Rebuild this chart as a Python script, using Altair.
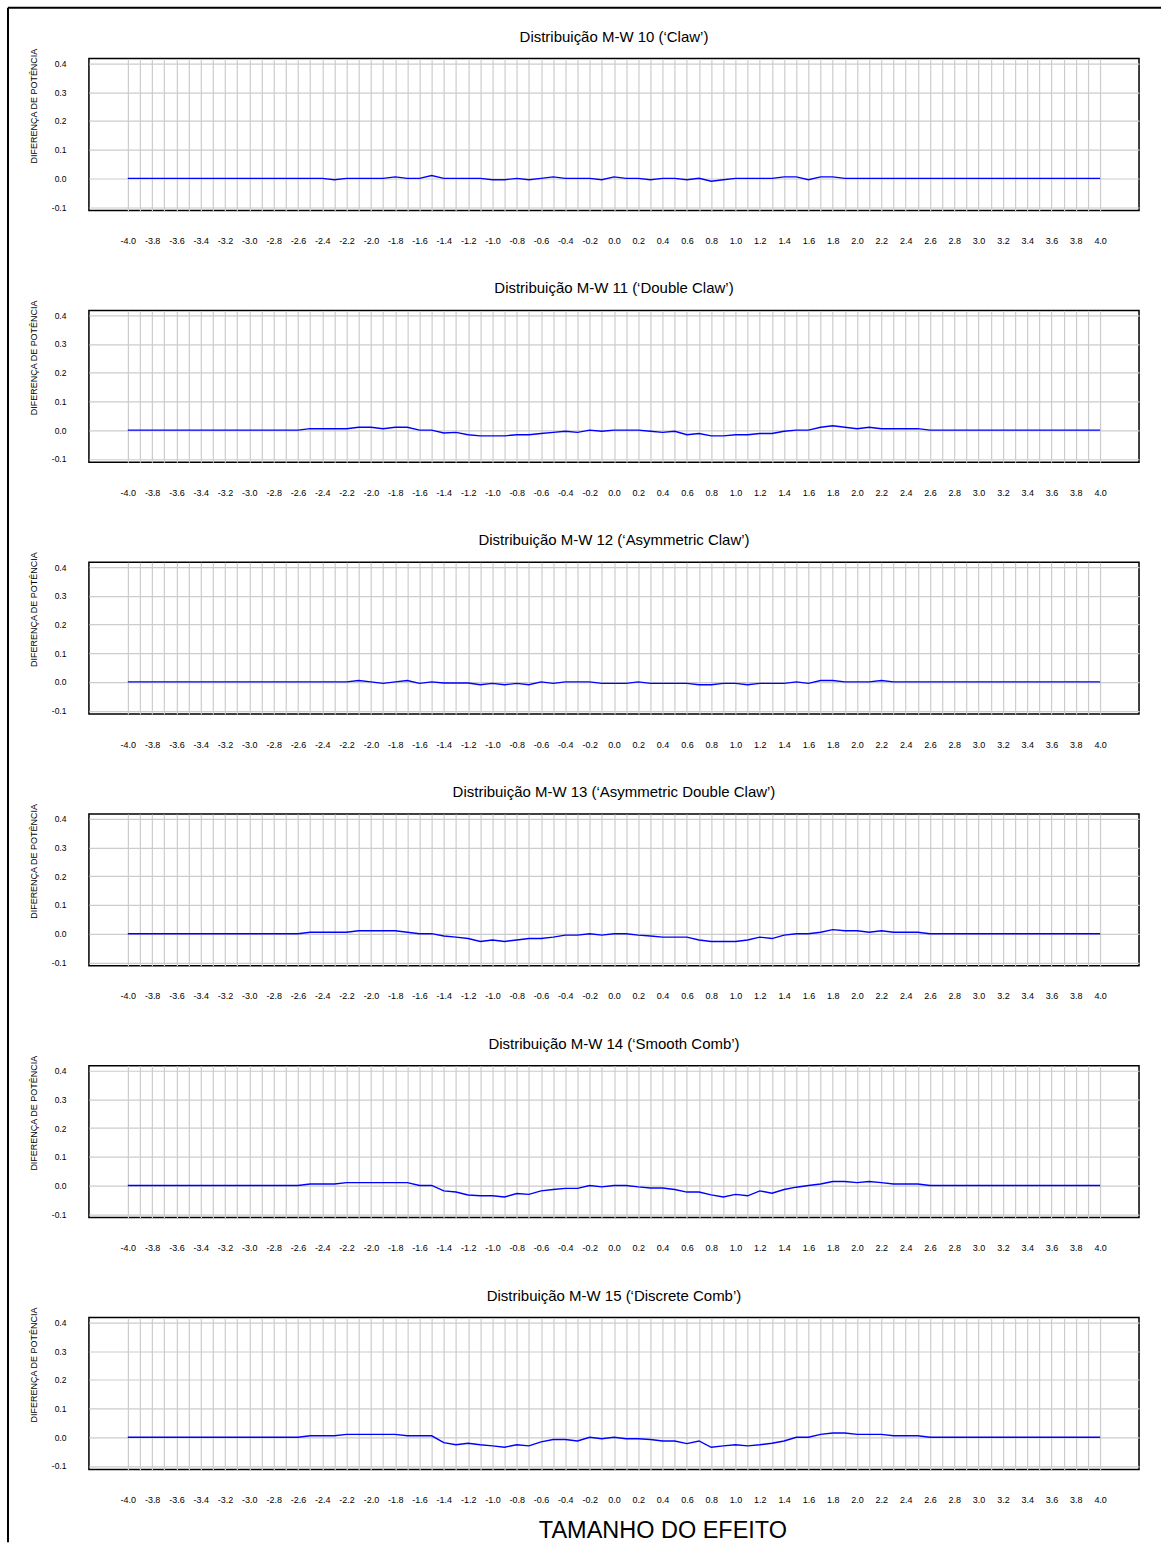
import altair as alt
import pandas as pd

# Effect-size grid (x categories), one point every 0.1
EFFECT = [
    -4.0, -3.9, -3.8, -3.7, -3.6, -3.5, -3.4, -3.3, -3.2, -3.1,
    -3.0, -2.9, -2.8, -2.7, -2.6, -2.5, -2.4, -2.3, -2.2, -2.1,
    -2.0, -1.9, -1.8, -1.7, -1.6, -1.5, -1.4, -1.3, -1.2, -1.1,
    -1.0, -0.9, -0.8, -0.7, -0.6, -0.5, -0.4, -0.3, -0.2, -0.1,
    0.0, 0.1, 0.2, 0.3, 0.4, 0.5, 0.6, 0.7, 0.8, 0.9,
    1.0, 1.1, 1.2, 1.3, 1.4, 1.5, 1.6, 1.7, 1.8, 1.9,
    2.0, 2.1, 2.2, 2.3, 2.4, 2.5, 2.6, 2.7, 2.8, 2.9,
    3.0, 3.1, 3.2, 3.3, 3.4, 3.5, 3.6, 3.7, 3.8, 3.9, 4.0,
]

TITLES = [
    "Distribuição M-W 10 (‘Claw’)",
    "Distribuição M-W 11 (‘Double Claw’)",
    "Distribuição M-W 12 (‘Asymmetric Claw’)",
    "Distribuição M-W 13 (‘Asymmetric Double Claw’)",
    "Distribuição M-W 14 (‘Smooth Comb’)",
    "Distribuição M-W 15 (‘Discrete Comb’)",
]

# Power difference per effect size, one list per distribution
CLAW = [
    0, 0, 0, 0, 0, 0, 0, 0, 0, 0,
    0, 0, 0, 0, 0, 0, 0, -0.005, 0, 0,
    0, 0, 0.005, 0, 0, 0.01, 0, 0, 0, 0,
    -0.005, -0.005, 0, -0.005, 0, 0.005, 0, 0, 0, -0.005,
    0.005, 0, 0, -0.005, 0, 0, -0.005, 0, -0.01, -0.005,
    0, 0, 0, 0, 0.005, 0.005, -0.005, 0.005, 0.005, 0,
    0, 0, 0, 0, 0, 0, 0, 0, 0, 0,
    0, 0, 0, 0, 0, 0, 0, 0, 0, 0, 0,
]
DOUBLE_CLAW = [
    0, 0, 0, 0, 0, 0, 0, 0, 0, 0,
    0, 0, 0, 0, 0, 0.005, 0.005, 0.005, 0.005, 0.01,
    0.01, 0.005, 0.01, 0.01, 0, 0, -0.01, -0.008, -0.016, -0.02,
    -0.02, -0.02, -0.016, -0.016, -0.012, -0.008, -0.004, -0.008, 0, -0.004,
    0, 0, 0, -0.004, -0.008, -0.004, -0.016, -0.012, -0.02, -0.02,
    -0.016, -0.016, -0.012, -0.012, -0.004, 0, 0, 0.01, 0.015, 0.01,
    0.005, 0.01, 0.005, 0.005, 0.005, 0.005, 0, 0, 0, 0,
    0, 0, 0, 0, 0, 0, 0, 0, 0, 0, 0,
]
ASYM_CLAW = [
    0, 0, 0, 0, 0, 0, 0, 0, 0, 0,
    0, 0, 0, 0, 0, 0, 0, 0, 0, 0.005,
    0, -0.005, 0, 0.005, -0.005, 0, -0.004, -0.004, -0.004, -0.01,
    -0.005, -0.01, -0.005, -0.01, 0, -0.005, 0, 0, 0, -0.005,
    -0.005, -0.005, 0, -0.005, -0.005, -0.005, -0.005, -0.01, -0.01, -0.005,
    -0.005, -0.01, -0.005, -0.005, -0.005, 0, -0.005, 0.005, 0.005, 0,
    0, 0, 0.005, 0, 0, 0, 0, 0, 0, 0,
    0, 0, 0, 0, 0, 0, 0, 0, 0, 0, 0,
]
ASYM_DOUBLE_CLAW = [
    0, 0, 0, 0, 0, 0, 0, 0, 0, 0,
    0, 0, 0, 0, 0, 0.005, 0.005, 0.005, 0.005, 0.01,
    0.01, 0.01, 0.01, 0.005, 0, 0, -0.008, -0.012, -0.017, -0.027,
    -0.022, -0.027, -0.022, -0.017, -0.017, -0.012, -0.005, -0.005, 0, -0.005,
    0, 0, -0.005, -0.008, -0.012, -0.012, -0.012, -0.022, -0.027, -0.027,
    -0.027, -0.022, -0.012, -0.017, -0.005, 0, 0, 0.005, 0.014, 0.01,
    0.01, 0.005, 0.01, 0.005, 0.005, 0.005, 0, 0, 0, 0,
    0, 0, 0, 0, 0, 0, 0, 0, 0, 0, 0,
]
SMOOTH_COMB = [
    0, 0, 0, 0, 0, 0, 0, 0, 0, 0,
    0, 0, 0, 0, 0, 0.005, 0.005, 0.005, 0.01, 0.01,
    0.01, 0.01, 0.01, 0.01, 0, 0, -0.019, -0.023, -0.033, -0.036,
    -0.036, -0.04, -0.028, -0.031, -0.019, -0.014, -0.01, -0.01, 0, -0.005,
    0, 0, -0.005, -0.009, -0.009, -0.014, -0.023, -0.023, -0.033, -0.04,
    -0.031, -0.036, -0.019, -0.027, -0.014, -0.006, 0, 0.005, 0.014, 0.014,
    0.01, 0.014, 0.01, 0.005, 0.005, 0.005, 0, 0, 0, 0,
    0, 0, 0, 0, 0, 0, 0, 0, 0, 0, 0,
]
DISCRETE_COMB = [
    0, 0, 0, 0, 0, 0, 0, 0, 0, 0,
    0, 0, 0, 0, 0, 0.005, 0.005, 0.005, 0.01, 0.01,
    0.01, 0.01, 0.01, 0.005, 0.005, 0.005, -0.019, -0.026, -0.021, -0.026,
    -0.03, -0.035, -0.026, -0.03, -0.016, -0.008, -0.008, -0.013, 0, -0.005,
    0, -0.005, -0.005, -0.008, -0.013, -0.013, -0.022, -0.013, -0.035, -0.03,
    -0.026, -0.03, -0.026, -0.021, -0.013, 0, 0, 0.01, 0.015, 0.015,
    0.01, 0.01, 0.01, 0.005, 0.005, 0.005, 0, 0, 0, 0,
    0, 0, 0, 0, 0, 0, 0, 0, 0, 0, 0,
]
SERIES = [CLAW, DOUBLE_CLAW, ASYM_CLAW, ASYM_DOUBLE_CLAW, SMOOTH_COMB, DISCRETE_COMB]

Y_TICKS = [-0.1, 0.0, 0.1, 0.2, 0.3, 0.4]

FONT = "Liberation Sans"
GRID = "#cccccc"
PANEL_W = 1051
PANEL_H = 152

# plain hyphen for negative labels
X_LABEL = ("abs(round(datum.value * 10)) % 2 == 0 ? "
           "replace(format(datum.value, '.1f'), '\u2212', '-') : ''")
Y_LABEL = "replace(format(datum.value, '.1f'), '\u2212', '-')"


def panel(title, values, show_x_title=False, with_border=False):
    df = pd.DataFrame({"effect": EFFECT, "diff": values})

    x_axis = dict(
        values=EFFECT,
        labelExpr=X_LABEL,
        labelFontSize=9,
        labelColor="black",
        labelPadding=26,
        labelOverlap=False,
        labelFlush=False,
        ticks=False,
        tickSize=0,
        domain=False,
        grid=True,
        gridColor=GRID,
        gridWidth=1.2,
    )
    if show_x_title:
        x_axis.update(
            title="TAMANHO DO EFEITO",
            titleFontSize=23.5,
            titleFontWeight="normal",
            titleColor="black",
            titleX=574,
            titleY=61,
            titleAlign="center",
            titleBaseline="middle",
        )
    else:
        x_axis["title"] = None

    y_axis = alt.Axis(
        values=Y_TICKS,
        labelExpr=Y_LABEL,
        labelFontSize=8.5,
        labelColor="black",
        labelPadding=23,
        ticks=False,
        tickSize=0,
        domain=False,
        grid=True,
        gridColor=GRID,
        gridWidth=1.2,
        title="DIFERENÇA DE POTÊNCIA",
        titleFontSize=9,
        titleFontWeight="normal",
        titleColor="black",
        titleAngle=270,
        titleX=-55,
        titleY=47,
        titleAlign="center",
        titleBaseline="middle",
    )

    line = alt.Chart(df).mark_line(color="#0000ff", strokeWidth=1.4).encode(
        x=alt.X("effect:Q", scale=alt.Scale(domain=[-4.32, 4.32], nice=False, zero=False),
                axis=alt.Axis(**x_axis)),
        y=alt.Y("diff:Q", scale=alt.Scale(domain=[-0.112, 0.417], nice=False, zero=False),
                axis=y_axis),
    )

    # panel heading, centred over the plot area
    heading = alt.Chart(pd.DataFrame({"heading": [title]})).mark_text(
        font=FONT, fontSize=15, color="black", baseline="middle", align="center"
    ).encode(text="heading:N", x=alt.value(PANEL_W / 2), y=alt.value(-22))

    layers = [line, heading]

    if with_border:
        # outer frame of the figure (top and left edges)
        edge = pd.DataFrame({"edge": ["frame"]})
        top = alt.Chart(edge).mark_rule(color="black", strokeWidth=2).encode(
            x=alt.value(-81), x2=alt.value(1073), y=alt.value(-51))
        left = alt.Chart(edge).mark_rule(color="black", strokeWidth=2).encode(
            x=alt.value(-81), y=alt.value(-51), y2=alt.value(1485))
        layers += [top, left]

    return alt.layer(*layers).properties(width=PANEL_W, height=PANEL_H)


panels = [
    panel(t, s, show_x_title=(i == len(TITLES) - 1), with_border=(i == 0))
    for i, (t, s) in enumerate(zip(TITLES, SERIES))
]

chart = (
    alt.VConcatChart(vconcat=panels, spacing=100, bounds="flush")
    .properties(padding={"left": 6, "top": 5, "right": 0, "bottom": 0}, background="white")
    .configure_view(stroke="black", strokeWidth=1.5)
    .configure_axis(labelFont=FONT, titleFont=FONT)
)

chart.save("out.html", embed_options={"renderer": "svg", "actions": False})
